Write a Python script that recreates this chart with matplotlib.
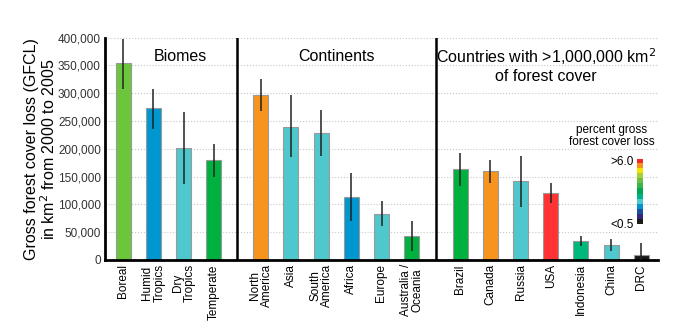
import numpy as np
import matplotlib
matplotlib.use("Agg")
import matplotlib.pyplot as plt
from matplotlib.colors import ListedColormap

plt.rcParams['font.family'] = ['Liberation Sans', 'DejaVu Sans']

# ---- data ----
biomes = ["Boreal", "Humid\nTropics", "Dry\nTropics", "Temperate"]
biome_vals = [354000, 273000, 202000, 179000]
biome_hi = [397000, 307000, 266000, 208000]
biome_lo = [308000, 236000, 137000, 149000]
biome_cols = ["#6cc63c", "#0096d0", "#4ec8cc", "#00b140"]

continents = ["North\nAmerica", "Asia", "South\nAmerica", "Africa", "Europe", "Australia /\nOceania"]
cont_vals = [296000, 240000, 228000, 113000, 83000, 44000]
cont_hi = [326000, 296000, 270000, 156000, 106000, 71000]
cont_lo = [267000, 186000, 187000, 71000, 61000, 17000]
cont_cols = ["#f7941d", "#4ec8cc", "#4ec8cc", "#0096d0", "#4ec8cc", "#00b140"]

countries = ["Brazil", "Canada", "Russia", "USA", "Indonesia", "China", "DRC"]
ctry_vals = [163000, 160000, 142000, 120000, 34000, 27000, 9000]
ctry_hi = [192000, 179000, 187000, 138000, 43000, 37000, 30000]
ctry_lo = [133000, 139000, 96000, 102000, 25000, 17000, 0]
ctry_cols = ["#00b140", "#f7941d", "#4ec8cc", "#ff3333", "#00b87c", "#4ec8cc", "#1a1a1a"]

scale_cols = ["#ee2a24", "#f7941d", "#f2e600", "#a6ce39", "#6cbe45", "#39b54a",
              "#00a651", "#00b38a", "#4ec8cc", "#0095d0", "#1f4e9a", "#2e2a7a", "#1a1a1a"]

# group starting positions on the x axis
starts = [0, 4.55, 11.15]
groups = [(biomes, biome_vals, biome_hi, biome_lo, biome_cols),
          (continents, cont_vals, cont_hi, cont_lo, cont_cols),
          (countries, ctry_vals, ctry_hi, ctry_lo, ctry_cols)]

fig = plt.figure(figsize=(6.75, 3.34), dpi=100)
ax = fig.add_axes([105/675, 1-260/334, 553/675, 222.5/334])

all_x, all_lab = [], []
for s, (labs, vals, hi, lo, cols) in zip(starts, groups):
    x = s + np.arange(len(labs))
    vals = np.array(vals)
    err = [vals - np.array(lo), np.array(hi) - vals]
    ax.bar(x, vals, 0.5, color=cols, edgecolor="#9a9a9a", linewidth=0.8, zorder=2)
    ax.errorbar(x, vals, yerr=err, fmt="none", ecolor="#222222", elinewidth=1.1, capsize=0, zorder=3)
    all_x += list(x)
    all_lab += labs

ax.set_xlim(-0.6, 17.7)
ax.set_ylim(0, 400000)
ax.set_yticks(np.arange(0, 400001, 50000))
ax.set_yticklabels([f"{v:,}" for v in range(0, 400001, 50000)], fontsize=8.5, color="#333333")
ax.set_xticks(all_x)
ax.set_xticklabels(all_lab, rotation=90, fontsize=8.5, linespacing=1.0, va="top")
ax.tick_params(length=0, pad=3)

for v in range(50000, 400001, 50000):
    ax.axhline(v, color="#c8c8c8", linestyle=":", linewidth=0.8, zorder=0)

for side in ["top", "right"]:
    ax.spines[side].set_visible(False)
ax.spines["left"].set_linewidth(2)
ax.spines["bottom"].set_linewidth(2)

ax.axvline(3.78, color="black", linewidth=1.8)
ax.axvline(10.35, color="black", linewidth=1.8)

ax.set_ylabel("Gross forest cover loss (GFCL)\nin km$^2$ from 2000 to 2005", fontsize=11.5, linespacing=1.0)
ax.yaxis.set_label_coords(-0.085, 0.5)

ax.text(1.9, 365000, "Biomes", ha="center", va="center", fontsize=11.5)
ax.text(7.05, 365000, "Continents", ha="center", va="center", fontsize=11.5)
ax.text(14.0, 350000, "Countries with >1,000,000 km$^2$\nof forest cover", ha="center", va="center",
        fontsize=11.5, linespacing=1.2)

# small colour scale legend
cax = fig.add_axes([637/675, 1-224/334, 6/675, 65/334])
cax.imshow(np.arange(len(scale_cols)).reshape(-1, 1), cmap=ListedColormap(scale_cols), aspect="auto")
cax.set_xticks([])
cax.set_yticks([])
for sp in cax.spines.values():
    sp.set_visible(False)
fig.text(612/675, 1-136/334, "percent gross\nforest cover loss", ha="center", va="center", fontsize=8.5, linespacing=1.1)
fig.text(634/675, 1-162/334, ">6.0", ha="right", va="center", fontsize=8.5)
fig.text(634/675, 1-225/334, "<0.5", ha="right", va="center", fontsize=8.5)

fig.savefig("out.png", dpi=100)
